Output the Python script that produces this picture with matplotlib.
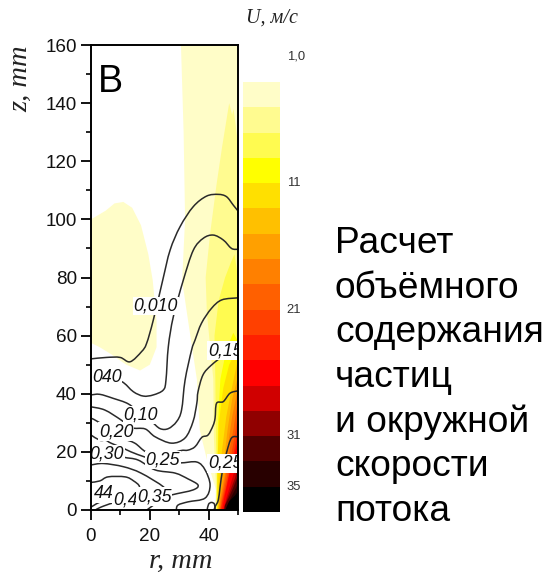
import matplotlib
matplotlib.use("Agg")
import matplotlib.pyplot as plt
from matplotlib.path import Path
from matplotlib.patches import PathPatch

W, H = 547, 576

# colour scale, bottom to top of the key (U edges go 37, 35 ... 3)
u_edges = [37, 35, 33, 31, 29, 27, 25, 23, 21, 19, 17, 15, 13, 11, 9, 7, 5, 3]
u_colors = ["#000000", "#280000", "#500000", "#900000", "#D00000", "#FF0000", "#FF2000",
            "#FF4000", "#FF6000", "#FF8000", "#FFA000", "#FFC000", "#FFE000", "#FFFF00",
            "#FFFB50", "#FFFB90", "#FFFDC8"]
u_ticks = [1, 11, 21, 31, 35]
u_labels = ["1,0", "11", "21", "31", "35"]

# filled bands (r, z), palest first
pale_left_r = [0, 5, 8, 11, 14, 17, 19.5, 21, 22.3, 22.3, 20, 16.7, 12, 7, 3, 0]
pale_left_z = [100, 103, 105.5, 106, 104, 98, 88, 79, 65, 56, 50, 48, 50, 53.5, 56, 57.5]
bands = [
    ("#FFFDC8", [30.6, 31.5, 32, 31, 32.6, 36, 37, 39.5, 42.8, 42, 50, 50],
     [160, 130, 100, 79, 68, 45, 27.5, 17, 6, 0, 0, 160]),
    ("#FFFB90", [47, 44.6, 42.7, 40.5, 39, 39.4, 41.6, 41.8, 42.5, 42.4, 50, 50, 49.5, 48.5, 48],
     [140, 125, 112, 95, 80, 68, 45, 25, 8, 0, 0, 125, 130, 138, 136]),
    ("#FFFB50", [48.8, 47.5, 45.6, 43.4, 42, 42.3, 42.5, 42.8, 42.6, 50, 50],
     [88, 85, 80, 72, 60, 45, 25, 10, 0, 0, 80]),
    ("#FFFF00", [48.4, 46, 44, 43.2, 43, 43, 50, 50], [61, 55, 45, 30, 12, 0, 0, 58]),
    ("#FFE000", [50, 47, 45, 43.5, 43, 43, 50], [56, 50, 42, 30, 15, 0, 0]),
    ("#FFC000", [50, 47.5, 46, 44.5, 43.5, 43.2, 50], [52, 40, 32, 20, 8, 0, 0]),
    ("#FFA000", [50, 48, 46.5, 45, 43.8, 43.4, 50], [46, 38, 28, 15, 5, 0, 0]),
    ("#FF8000", [50, 48, 47, 45.5, 44, 43.6, 50], [42, 32, 25, 12, 4, 0, 0]),
    ("#FF6000", [50, 48.5, 47, 45.5, 44.2, 43.8, 50], [38, 28, 20, 10, 3, 0, 0]),
    ("#FF4000", [50, 49, 47.5, 46, 44.5, 44, 50], [33, 26, 18, 10, 3, 0, 0]),
    ("#FF2000", [50, 49, 47.5, 46, 44.6, 44.2, 50], [28, 22, 15, 8, 2.5, 0, 0]),
    ("#FF0000", [50, 48.5, 47, 45.5, 44.6, 50], [24, 18, 12, 5, 0, 0]),
    ("#D00000", [50, 49, 47.5, 46, 45, 50], [19, 14, 9, 4, 0, 0]),
    ("#900000", [50, 49, 47.5, 46, 45.2, 50], [15, 11, 7, 3, 0, 0]),
    ("#500000", [50, 48.5, 47, 45.5, 45.4, 50], [12, 8, 4.5, 1.5, 0, 0]),
    ("#280000", [50, 48.5, 47, 45.6, 50], [9, 6, 3, 0, 0]),
    ("#000000", [50, 49, 47, 45.7, 50], [6.5, 5, 3, 0, 0]),
]

# concentration contours (r, z)
c_a_r = [50, 48.4, 46.1, 43.3, 39.3, 34.8, 30.3, 26.9, 24.4, 21.2, 18.9, 17.2, 13.3, 9.9, 5.3, 0]
c_a_z = [102.9, 104.9, 107.8, 108.6, 108, 104.4, 97.5, 89.4, 79.1, 65.4, 57.3, 54.5, 51, 52.5, 52.5, 52]
c_b_r = [50, 47.8, 45, 41.6, 38.2, 34.8, 31.4, 28, 26.3, 25.5, 24.6, 21.2, 17.8, 14.4, 10.4, 5, 0]
c_b_z = [89.7, 90, 92.9, 94.6, 93.5, 89.4, 79.1, 66.5, 56.2, 44.7, 41.3, 39.6, 39.2, 40.7, 44.2, 45, 45]
c_c_r = [50, 44.5, 41, 37.6, 35.4, 34.2, 32, 30.8, 29.1, 26.3, 23.5, 20.6, 17, 12.7, 7.6, 3, 0]
c_c_z = [73, 72.3, 69.4, 64.3, 58.5, 55, 44.7, 34.4, 30.4, 28, 28, 30.4, 33, 36.5, 38.4, 39.8, 39.6]
c_d_r = [50, 46, 41, 38.1, 36.4, 36, 34.7, 32, 27.4, 21.8, 18.4, 13.7, 10.2, 4.7, 0]
c_d_z = [58, 54, 49.9, 46.5, 40.7, 36.8, 30.4, 24.8, 23, 25.2, 27.9, 28.3, 31, 34.4, 35.5]
c_e_r = [50, 47.3, 45, 42.7, 42.2, 41.5, 39.8, 37.7, 35.4, 33, 30.3, 24, 18.7, 14.9, 10.2, 3, 0]
c_e_z = [41, 40.2, 37.3, 36.7, 31.6, 29, 25.8, 25, 21.8, 20.6, 20.4, 18.5, 20, 23, 25, 30, 31.6]
c_f_r = [0, 3, 5, 6.8, 10.9, 13.6, 18.4, 24, 30.3, 36, 38.8, 40.5, 38.8, 33, 29.6, 29]
c_f_z = [25.8, 24, 24, 23, 21.3, 20, 18.2, 16.5, 16.2, 16.5, 13.8, 8.6, 4.1, 2.8, 1.7, 0]
c_g_r = [0, 4, 10.9, 16, 21.8, 28.6, 33, 36.4, 34.7, 27.5, 22, 17, 12, 7.5, 3.4, 1.5]
c_g_z = [20.5, 20, 18.2, 17.2, 13.8, 12.7, 10.7, 8.6, 6.9, 5.2, 3.5, 3.2, 2.8, 2.4, 1, 0]
c_h_r = [0, 4.2, 11, 17, 24.6, 25.5, 24.5, 21, 19]
c_h_z = [15.5, 16, 14.9, 12.7, 8, 5.7, 4, 1.5, 0]
c_i_r = [0, 3, 5.8, 11.6, 14.5, 16.5, 15.5, 12, 8, 3.4, 0]
c_i_z = [9.5, 10, 11.4, 11.4, 10, 8, 5, 3.6, 3, 2.8, 1]
c_j_r = [50, 47.8, 46.2, 44.8, 43.9, 43.3, 42.2, 41.9]
c_j_z = [25.2, 24.8, 20.1, 14, 7.9, 3.4, 1.1, 0]
c_k_r = [39.5, 40, 41, 42, 42.2]
c_k_z = [0, 2, 2.6, 2, 0]
contours = [(c_a_r, c_a_z), (c_b_r, c_b_z), (c_c_r, c_c_z), (c_d_r, c_d_z), (c_e_r, c_e_z), (c_f_r, c_f_z),
            (c_g_r, c_g_z), (c_h_r, c_h_z), (c_i_r, c_i_z), (c_j_r, c_j_z), (c_k_r, c_k_z)]

label_text = ["0,010", "040", "0,10", "0,20", "0,30", "0,25", "0,15", "0,25", "44", "0,4", "0,35"]
label_r = [22, 5.3, 17, 8.5, 5.3, 24.4, 45.6, 45.6, 4.2, 11.6, 21.5]
label_z = [70.2, 45.6, 32.7, 27, 19.3, 17.2, 54.8, 16, 5.7, 3.4, 4.6]

side_lines = ["Расчет", "объёмного", "содержания", "частиц", "и окружной", "скорости", "потока"]

sans = "Liberation Sans"
serif = "Liberation Serif"


def curve_through(r, z):
    # bezier path through the read points so the contours bend instead of kinking
    pts = list(zip(r, z))
    verts = [pts[0]]
    codes = [Path.MOVETO]
    for i in range(len(pts) - 1):
        p0 = pts[max(i - 1, 0)]
        p1 = pts[i]
        p2 = pts[i + 1]
        p3 = pts[min(i + 2, len(pts) - 1)]
        verts.append((p1[0] + (p2[0] - p0[0]) / 6, p1[1] + (p2[1] - p0[1]) / 6))
        verts.append((p2[0] - (p3[0] - p1[0]) / 6, p2[1] - (p3[1] - p1[1]) / 6))
        verts.append(p2)
        codes += [Path.CURVE4] * 3
    return Path(verts, codes)


fig = plt.figure(figsize=(W / 100, H / 100), dpi=100)

# main panel
ax = fig.add_axes([91 / W, 1 - 510 / H, 147 / W, 465 / H])
ax.fill(pale_left_r, pale_left_z, color="#FFFDC8", lw=0, zorder=1)
for col, r, z in bands:
    ax.fill(r, z, color=col, lw=0, zorder=1)
for r, z in contours:
    ax.add_patch(PathPatch(curve_through(r, z), fc="none", ec="#2a2a2a", lw=1.1, zorder=2))
for t, r, z in zip(label_text, label_r, label_z):
    ax.text(r, z, t, family=sans, style="italic", fontsize=12.8, color="#111111", ha="center", va="center",
            zorder=3, clip_on=True, bbox=dict(facecolor="white", edgecolor="none", pad=0.6))
ax.set_xlim(0, 50)
ax.set_ylim(0, 160)
ax.set_xticks([0, 20, 40])
ax.set_xticks([10, 30, 50], minor=True)
ax.set_yticks(range(0, 161, 20))
ax.set_yticks(range(10, 160, 20), minor=True)
ax.tick_params(which="major", length=7.2, width=1.3, labelsize=13.6)
ax.tick_params(axis="x", which="major", pad=5.8)
ax.tick_params(axis="y", which="major", pad=3)
ax.tick_params(which="minor", length=3.6, width=1.2)
for lab in ax.get_xticklabels() + ax.get_yticklabels():
    lab.set_family(sans)
    lab.set_color("#111111")
for s in ax.spines.values():
    s.set_linewidth(1.4)
    s.set_zorder(5)
ax.text(0.05, 0.9, "B", transform=ax.transAxes, family=sans, fontsize=27, va="baseline", ha="left", zorder=4)
fig.text(21 / W, 1 - 79 / H, "z, mm", family=serif, style="italic", fontsize=20.5, color="#222222",
         rotation=90, ha="center", va="center")
fig.text(181 / W, 1 - 561 / H, "r, mm", family=serif, style="italic", fontsize=20.5, color="#222222",
         ha="center", va="center")

# colour key
cax = fig.add_axes([243 / W, 1 - 512 / H, 37 / W, 430 / H])
for i, col in enumerate(u_colors):
    cax.bar(0, u_edges[i + 1] - u_edges[i], bottom=u_edges[i], width=1, color=col, lw=0)
cax.set_xlim(-0.5, 0.5)
cax.set_ylim(37, 3)
cax.axis("off")
for u, t in zip(u_ticks, u_labels):
    cax.text(0.68, u, t, family=sans, fontsize=9.4, color="#333333", ha="left", va="center", clip_on=False)
fig.text(272 / W, 1 - 18 / H, "U, м/с", family=serif, style="italic", fontsize=14.5, color="#222222",
         ha="center", va="center")

for i, line in enumerate(side_lines):
    fig.text(335 / W, 1 - (253 + 44.7 * i) / H, line, family=sans, fontsize=26.7, color="black",
             ha="left", va="baseline")

fig.savefig("out.png", dpi=100)
